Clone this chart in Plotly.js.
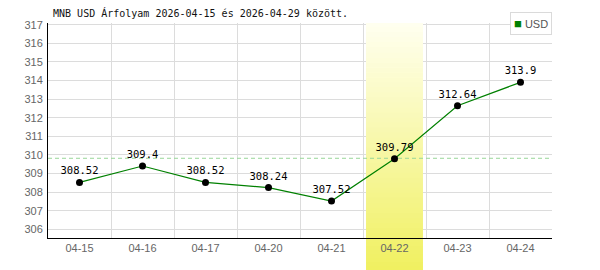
<!DOCTYPE html>
<html>
<head>
<meta charset="utf-8">
<script src="https://cdn.plot.ly/plotly-3.0.1.min.js"></script>
<style>html,body{margin:0;padding:0;background:#fff}#chart{width:600px;height:270px}</style>
</head>
<body>
<div id="chart"></div>
<script>
// ---- data ----
const categories = ['04-15', '04-16', '04-17', '04-20', '04-21', '04-22', '04-23', '04-24'];
const usdValues = [308.52, 309.4, 308.52, 308.24, 307.52, 309.79, 312.64, 313.9];
const seriesName = 'USD';
const highlightCategory = '04-22';
const titleText = 'MNB USD Árfolyam 2026-04-15 és 2026-04-29 között.';
const yTickValues = [306, 307, 308, 309, 310, 311, 312, 313, 314, 315, 316, 317];

// ---- derived ----
const mean = usdValues.reduce((a, b) => a + b, 0) / usdValues.length;
const yRange = [305.53, 317.09];
const hiIdx = categories.indexOf(highlightCategory);
const halfW = 0.452;

// gradient for the highlight column (top pale -> bottom yellow)
const topCol = [255, 255, 240], botCol = [240, 240, 96];
const marginT = 23, marginB = 32, plotH = 270 - marginT - marginB;
const topPx = 22, botPx = 270;
function colAt(px) {
  const t = Math.min(1, Math.max(0, (px - topPx) / (botPx - topPx)));
  const c = topCol.map((v, i) => Math.round(v + (botCol[i] - v) * t));
  return 'rgb(' + c.join(',') + ')';
}
function pxToPaper(px) { return (270 - marginB - px) / plotH; }
function paperToY(f) { return yRange[0] + f * (yRange[1] - yRange[0]); }

const shapes = [];
// inside plot area (between gridlines and traces)
const Nin = 43;
const inTop = topPx, inBot = 270 - marginB;
for (let i = 0; i < Nin; i++) {
  const p0 = inTop + (inBot - inTop) * i / Nin;
  const p1 = inTop + (inBot - inTop) * (i + 1) / Nin;
  shapes.push({
    type: 'rect', layer: 'between', xref: 'x', yref: 'y',
    x0: hiIdx - halfW, x1: hiIdx + halfW,
    y0: paperToY(pxToPaper(p1 + 0.6)), y1: paperToY(pxToPaper(p0)),
    fillcolor: colAt((p0 + p1) / 2), line: {width: 0}
  });
}
// below the axis
const Nout = 8;
for (let i = 0; i < Nout; i++) {
  const p0 = inBot + (botPx - inBot) * i / Nout;
  const p1 = inBot + (botPx - inBot) * (i + 1) / Nout;
  shapes.push({
    type: 'rect', layer: 'below', xref: 'x', yref: 'paper',
    x0: hiIdx - halfW, x1: hiIdx + halfW,
    y0: pxToPaper(p1 + 0.6), y1: pxToPaper(p0),
    fillcolor: colAt((p0 + p1) / 2), line: {width: 0}
  });
}
// mean dashed line
shapes.push({
  type: 'line', layer: 'between', xref: 'x', yref: 'y',
  x0: -0.5, x1: categories.length - 0.5, y0: mean, y1: mean,
  line: {color: '#99d699', width: 1, dash: '4px,3px'}
});

const trace = {
  type: 'scatter', mode: 'lines+markers+text',
  x: categories, y: usdValues, name: seriesName,
  text: usdValues.map(v => String(v)),
  textposition: 'top center',
  textfont: {family: 'DejaVu Sans Mono, monospace', size: 10.5, color: '#000'},
  line: {color: '#008000', width: 1.2},
  marker: {color: '#000', size: 7},
  cliponaxis: false,
  showlegend: false,
  hoverinfo: 'x+y'
};

const layout = {
  width: 600, height: 270,
  margin: {l: 48, r: 48, t: marginT, b: marginB, pad: 0},
  paper_bgcolor: '#fff',
  plot_bgcolor: 'rgba(0,0,0,0)',
  font: {family: 'Liberation Sans, Arial, sans-serif', size: 11, color: '#555'},
  title: {
    text: titleText,
    font: {family: 'DejaVu Sans Mono, monospace', size: 10, color: '#111'},
    xref: 'paper', x: 0.01, xanchor: 'left',
    yref: 'container', y: 1 - 13 / 270, yanchor: 'middle'
  },
  xaxis: {
    type: 'category', categoryorder: 'array', categoryarray: categories,
    range: [-0.5, categories.length - 0.5],
    tickson: 'boundaries', ticks: '',
    showgrid: true, gridcolor: '#dcdcdc', gridwidth: 1,
    showline: true, linecolor: '#000', linewidth: 1,
    zeroline: false, fixedrange: true,
    tickfont: {size: 11, color: '#666'}
  },
  yaxis: {
    range: yRange, tickmode: 'array', tickvals: yTickValues,
    ticktext: yTickValues.map(String),
    ticks: '', ticklabelstandoff: 2,
    showgrid: true, gridcolor: '#dcdcdc', gridwidth: 1,
    showline: true, linecolor: '#000', linewidth: 1,
    zeroline: false, fixedrange: true,
    tickfont: {size: 11, color: '#666'}
  },
  shapes: shapes,
  annotations: [{
    xref: 'paper', yref: 'paper', x: 1, y: (270 - marginB - 12) / plotH,
    xanchor: 'right', yanchor: 'top', showarrow: false,
    text: '<span style="color:#008000;font-size:13px">■</span> ' + seriesName,
    font: {family: 'Liberation Sans, Arial, sans-serif', size: 11, color: '#555'},
    bgcolor: '#fff', bordercolor: '#dadada', borderwidth: 1, borderpad: 3
  }],
  showlegend: false
};

Plotly.newPlot('chart', [trace], layout, {displayModeBar: false, staticPlot: true});
</script>
</body>
</html>
